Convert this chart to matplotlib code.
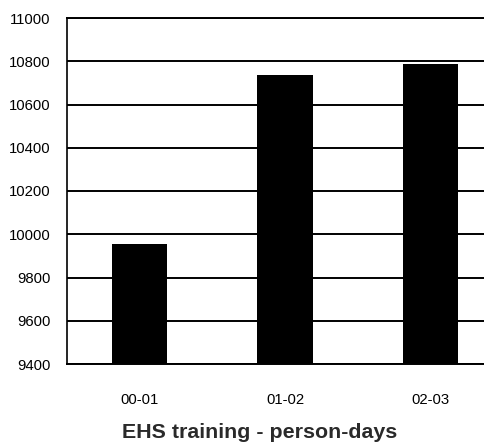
import matplotlib
matplotlib.use("Agg")
import matplotlib.pyplot as plt

periods = ["00-01", "01-02", "02-03"]
person_days = [9955, 10735, 10788]
y_ticks = [9400, 9600, 9800, 10000, 10200, 10400, 10600, 10800, 11000]
title = "EHS training - person-days"

plt.rcParams["font.family"] = ["Liberation Sans", "DejaVu Sans"]

fig = plt.figure(figsize=(4.85, 4.45), dpi=100)
W, H = 485, 445
left, right, top, bottom = 67, 503, 18, 364
ax = fig.add_axes([left / W, 1 - bottom / H, (right - left) / W, (bottom - top) / H])

x = range(len(periods))
ax.bar(x, person_days, width=0.38, color="black", zorder=3)

ax.set_xlim(-0.5, len(periods) - 0.5)
ax.set_ylim(y_ticks[0], y_ticks[-1])
ax.set_yticks(y_ticks)
ax.set_xticks(list(x))
ax.set_xticklabels(periods)
ax.yaxis.grid(True, color="black", linewidth=1.4, zorder=0)
ax.tick_params(axis="both", length=0, labelsize=10.7, colors="black")
ax.tick_params(axis="y", pad=12)
ax.tick_params(axis="x", pad=21)

ax.spines["right"].set_visible(False)
ax.spines["left"].set_linewidth(1.2)
ax.spines["bottom"].set_linewidth(1.4)
ax.spines["top"].set_linewidth(1.4)

fig.text(0.5 * (122 + 398) / W, 1 - 432 / H, title, ha="center", va="center",
         fontsize=15.4, fontweight="bold", color="#2a2a2a")

fig.savefig("out.png", dpi=100)
